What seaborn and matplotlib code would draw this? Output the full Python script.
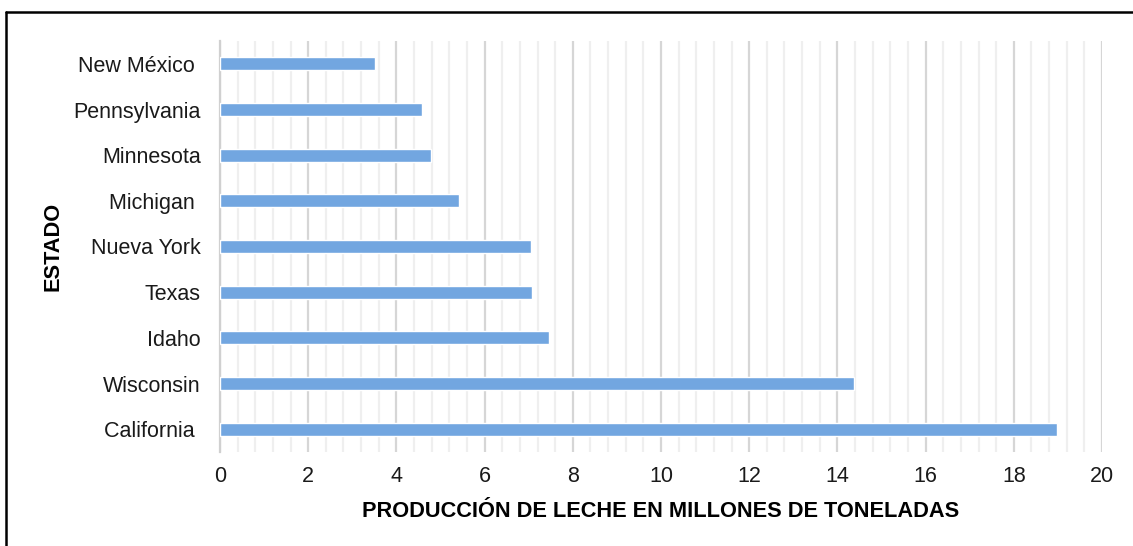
import matplotlib
matplotlib.use("Agg")
import matplotlib.pyplot as plt
from matplotlib.lines import Line2D
from matplotlib.ticker import MultipleLocator, FixedLocator
import seaborn as sns
import pandas as pd

# Milk production by state (millions of tonnes)
estados = ["New México ", "Pennsylvania", "Minnesota", "Michigan ", "Nueva York",
           "Texas", "Idaho", "Wisconsin", "California "]
produccion = [3.52, 4.58, 4.79, 5.43, 7.05, 7.08, 7.45, 14.37, 18.97]
x_ticks = [0, 2, 4, 6, 8, 10, 12, 14, 16, 18, 20]

df = pd.DataFrame({"estado": estados, "produccion": produccion})

sns.set_theme(style="white")
plt.rcParams["font.family"] = ["Liberation Sans", "DejaVu Sans"]

W, H, DPI = 1133, 546, 100
fig = plt.figure(figsize=(W / DPI, H / DPI), dpi=DPI)
ax = fig.add_axes([220 / W, 1 - 452 / H, (1102 - 220) / W, (452 - 41) / H])

sns.barplot(data=df, x="produccion", y="estado", orient="h", order=estados,
            color="#72A6E0", saturation=1, width=0.28, ax=ax, zorder=3)

ax.set_xlim(0, 20)
ax.set_ylim(len(estados) - 0.5, -0.5)

# vertical grid: major every 2, minor every 0.4
ax.xaxis.set_major_locator(FixedLocator(x_ticks))
ax.xaxis.set_minor_locator(MultipleLocator(0.4))
ax.grid(axis="x", which="major", color="#D6D6D6", linewidth=1.6, zorder=0)
ax.grid(axis="x", which="minor", color="#EFEFEF", linewidth=1.6, zorder=0)
ax.grid(axis="y", visible=False)
ax.set_axisbelow(True)

for s in ["top", "right", "bottom"]:
    ax.spines[s].set_visible(False)
ax.spines["left"].set_color("#D0D0D0")
ax.spines["left"].set_linewidth(1.6)

ax.tick_params(axis="x", which="both", length=0, labelsize=15.5, pad=10, colors="#1a1a1a")
ax.yaxis.set_minor_locator(FixedLocator([i - 0.5 for i in range(len(estados) + 1)]))
ax.tick_params(axis="y", which="major", length=0, labelsize=15.5, pad=14, colors="#1a1a1a")
ax.tick_params(axis="y", which="minor", length=5, width=1.6, color="#D0D0D0", direction="out")

ax.set_xlabel("PRODUCCIÓN DE LECHE EN MILLONES DE TONELADAS", fontsize=15.7,
              fontweight="bold", labelpad=10, color="black")
ax.set_ylabel("ESTADO", fontsize=15.7, fontweight="bold", labelpad=7, color="black")

# outer chart frame (top and left edges)
fx0, fy0 = 6 / W, 1 - 12 / H
fig.add_artist(Line2D([fx0, 1.0], [fy0, fy0], transform=fig.transFigure,
                      color="black", linewidth=1.8))
fig.add_artist(Line2D([fx0, fx0], [0.0, fy0], transform=fig.transFigure,
                      color="black", linewidth=1.8))

fig.savefig("out.png", dpi=DPI)
